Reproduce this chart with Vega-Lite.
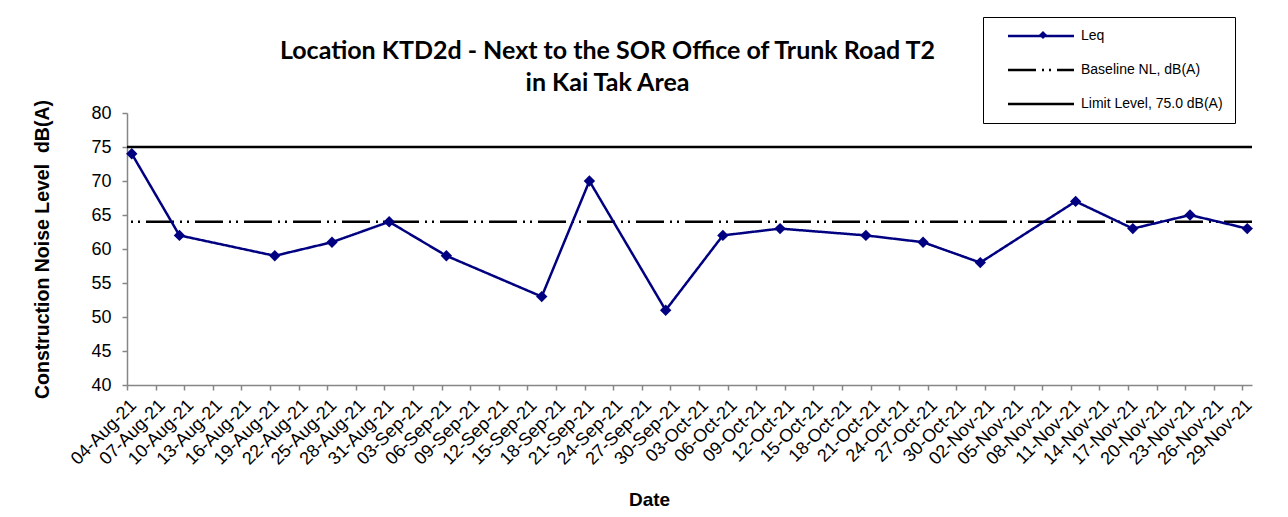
{
  "$schema": "https://vega.github.io/schema/vega-lite/v6.json",
  "width": 1125,
  "height": 272,
  "autosize": {"type": "none"},
  "padding": {"left": 127, "top": 113, "right": 36, "bottom": 132},
  "background": "white",
  "title": {
    "text": ["Location KTD2d - Next to the SOR Office of Trunk Road T2", "in Kai Tak Area"],
    "font": "Lato",
    "fontSize": 25,
    "fontWeight": "bold",
    "color": "black",
    "anchor": "middle",
    "frame": "group",
    "dx": -82,
    "dy": 91,
    "offset": 12,
    "lineHeight": 32
  },
  "datasets": {
    "leq": [
      {"date": "2021-08-04", "leq": 74, "series": "Leq"},
      {"date": "2021-08-09", "leq": 62, "series": "Leq"},
      {"date": "2021-08-19", "leq": 59, "series": "Leq"},
      {"date": "2021-08-25", "leq": 61, "series": "Leq"},
      {"date": "2021-08-31", "leq": 64, "series": "Leq"},
      {"date": "2021-09-06", "leq": 59, "series": "Leq"},
      {"date": "2021-09-16", "leq": 53, "series": "Leq"},
      {"date": "2021-09-21", "leq": 70, "series": "Leq"},
      {"date": "2021-09-29", "leq": 51, "series": "Leq"},
      {"date": "2021-10-05", "leq": 62, "series": "Leq"},
      {"date": "2021-10-11", "leq": 63, "series": "Leq"},
      {"date": "2021-10-20", "leq": 62, "series": "Leq"},
      {"date": "2021-10-26", "leq": 61, "series": "Leq"},
      {"date": "2021-11-01", "leq": 58, "series": "Leq"},
      {"date": "2021-11-11", "leq": 67, "series": "Leq"},
      {"date": "2021-11-17", "leq": 63, "series": "Leq"},
      {"date": "2021-11-23", "leq": 65, "series": "Leq"},
      {"date": "2021-11-29", "leq": 63, "series": "Leq"}
    ],
    "levels": [
      {"series": "Baseline NL, dB(A)", "level": 64},
      {"series": "Limit Level, 75.0 dB(A)", "level": 75}
    ]
  },
  "layer": [
    {
      "data": {"name": "levels"},
      "mark": {"type": "rule", "strokeWidth": 2.5},
      "encoding": {
        "y": {"field": "level", "type": "quantitative", "scale": {"domain": [40, 80]},
          "title": "Construction Noise Level\u00a0\u00a0dB(A)",
          "axis": {"values": [40, 45, 50, 55, 60, 65, 70, 75, 80], "tickCount": 20}},
        "color": {"field": "series", "type": "nominal", "title": null,
          "scale": {"domain": ["Leq", "Baseline NL, dB(A)", "Limit Level, 75.0 dB(A)"], "range": ["#000080", "#000000", "#000000"]}},
        "strokeDash": {"field": "series", "type": "nominal", "title": null,
          "scale": {"domain": ["Leq", "Baseline NL, dB(A)", "Limit Level, 75.0 dB(A)"], "range": [[1, 0], [28, 6, 2, 5, 2, 6], [1, 0]]}}
      }
    },
    {
      "data": {"name": "leq"},
      "mark": {"type": "line", "strokeWidth": 2.5},
      "encoding": {
        "x": {"field": "date", "type": "temporal", "timeUnit": "utcyearmonthdate", "title": "Date", "bandPosition": 0.5,
          "scale": {"type": "utc", "domain": [{"year": 2021, "month": 8, "date": 4, "utc": true}, {"year": 2021, "month": 11, "date": 30, "utc": true}]},
          "axis": {
            "tickCount": 60,
            "values": [
              {"year": 2021, "month": 8, "date": 4, "utc": true},
              {"year": 2021, "month": 8, "date": 7, "utc": true},
              {"year": 2021, "month": 8, "date": 10, "utc": true},
              {"year": 2021, "month": 8, "date": 13, "utc": true},
              {"year": 2021, "month": 8, "date": 16, "utc": true},
              {"year": 2021, "month": 8, "date": 19, "utc": true},
              {"year": 2021, "month": 8, "date": 22, "utc": true},
              {"year": 2021, "month": 8, "date": 25, "utc": true},
              {"year": 2021, "month": 8, "date": 28, "utc": true},
              {"year": 2021, "month": 8, "date": 31, "utc": true},
              {"year": 2021, "month": 9, "date": 3, "utc": true},
              {"year": 2021, "month": 9, "date": 6, "utc": true},
              {"year": 2021, "month": 9, "date": 9, "utc": true},
              {"year": 2021, "month": 9, "date": 12, "utc": true},
              {"year": 2021, "month": 9, "date": 15, "utc": true},
              {"year": 2021, "month": 9, "date": 18, "utc": true},
              {"year": 2021, "month": 9, "date": 21, "utc": true},
              {"year": 2021, "month": 9, "date": 24, "utc": true},
              {"year": 2021, "month": 9, "date": 27, "utc": true},
              {"year": 2021, "month": 9, "date": 30, "utc": true},
              {"year": 2021, "month": 10, "date": 3, "utc": true},
              {"year": 2021, "month": 10, "date": 6, "utc": true},
              {"year": 2021, "month": 10, "date": 9, "utc": true},
              {"year": 2021, "month": 10, "date": 12, "utc": true},
              {"year": 2021, "month": 10, "date": 15, "utc": true},
              {"year": 2021, "month": 10, "date": 18, "utc": true},
              {"year": 2021, "month": 10, "date": 21, "utc": true},
              {"year": 2021, "month": 10, "date": 24, "utc": true},
              {"year": 2021, "month": 10, "date": 27, "utc": true},
              {"year": 2021, "month": 10, "date": 30, "utc": true},
              {"year": 2021, "month": 11, "date": 2, "utc": true},
              {"year": 2021, "month": 11, "date": 5, "utc": true},
              {"year": 2021, "month": 11, "date": 8, "utc": true},
              {"year": 2021, "month": 11, "date": 11, "utc": true},
              {"year": 2021, "month": 11, "date": 14, "utc": true},
              {"year": 2021, "month": 11, "date": 17, "utc": true},
              {"year": 2021, "month": 11, "date": 20, "utc": true},
              {"year": 2021, "month": 11, "date": 23, "utc": true},
              {"year": 2021, "month": 11, "date": 26, "utc": true},
              {"year": 2021, "month": 11, "date": 29, "utc": true}
            ]
          }},
        "y": {"field": "leq", "type": "quantitative"},
        "color": {"field": "series", "type": "nominal", "title": null},
        "strokeDash": {"field": "series", "type": "nominal", "title": null}
      }
    },
    {
      "data": {"name": "leq"},
      "mark": {"type": "point", "filled": true, "size": 130, "opacity": 1, "color": "#000080"},
      "encoding": {
        "x": {"field": "date", "type": "temporal", "timeUnit": "utcyearmonthdate", "bandPosition": 0.5},
        "y": {"field": "leq", "type": "quantitative"},
        "shape": {"datum": "Leq", "title": null, "scale": {"range": ["diamond"]},
          "legend": {"legendX": 909, "legendY": -85, "strokeColor": "transparent", "fillColor": "transparent", "padding": 0,
            "symbolType": "diamond", "symbolSize": 64, "symbolOffset": 0, "symbolStrokeWidth": 1,
            "symbolFillColor": "#000080", "symbolStrokeColor": "#000080", "labelOpacity": 0}}
      }
    }
  ],
  "config": {
    "view": {"stroke": null},
    "axisX": {
      "format": "%d-%b-%y",
      "formatType": "utc",
      "labelAngle": -45,
      "labelOverlap": false,
      "labelFlush": false,
      "labelFontSize": 18,
      "labelPadding": 6,
      "titlePadding": 22,
      "titleFontSize": 19,
      "titleX": 522
    },
    "axisY": {
      "labelFontSize": 18,
      "labelPadding": 11,
      "titlePadding": 38,
      "titleFontSize": 19.5
    },
    "axis": {
      "grid": false,
      "domainColor": "#868686",
      "domainWidth": 1.5,
      "tickColor": "#868686",
      "tickWidth": 1.5,
      "tickSize": 5,
      "labelFont": "Liberation Sans",
      "labelColor": "black",
      "titleFont": "Liberation Sans",
      "titleFontWeight": "bold",
      "titleColor": "black"
    },
    "legend": {
      "orient": "none",
      "legendX": 856,
      "legendY": -96,
      "strokeColor": "black",
      "fillColor": "white",
      "padding": 12,
      "symbolType": "M-6,0H6",
      "symbolSize": 121,
      "symbolOffset": 39,
      "symbolStrokeWidth": 2.5,
      "labelFont": "Liberation Sans",
      "labelFontSize": 14,
      "labelColor": "black",
      "labelOffset": 33,
      "rowPadding": 20
    }
  }
}
